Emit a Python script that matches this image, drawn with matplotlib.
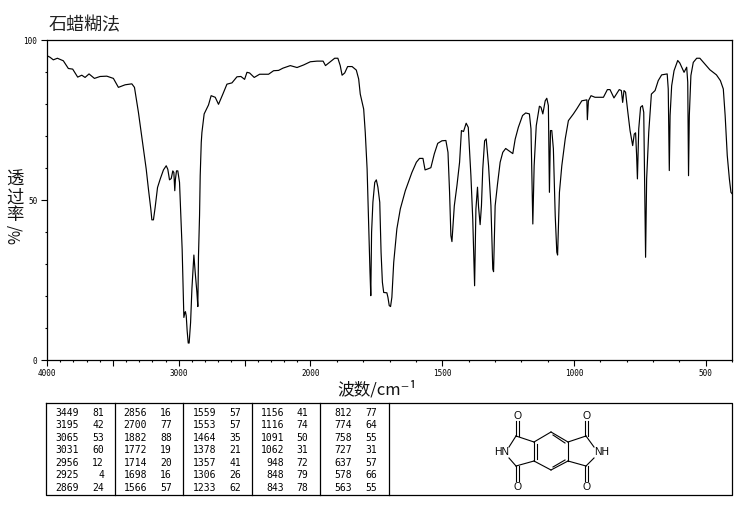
import matplotlib
matplotlib.use('Agg')
import matplotlib.pyplot as plt
import numpy as np

CJK = ['Noto Sans CJK SC', 'DejaVu Sans']
MONO = 'DejaVu Sans Mono'

wavenumber = [
    4000, 3977, 3952, 3921, 3876, 3838, 3805, 3767, 3736, 3711, 3681, 3640, 3597, 3546, 3496, 3458,
    3407, 3356, 3336, 3306, 3268, 3247, 3230, 3212, 3204, 3192, 3179, 3161, 3141, 3116, 3095, 3083,
    3070, 3057, 3045, 3037, 3030, 3025, 3017, 3007, 2994, 2984, 2974, 2966, 2961, 2953, 2949, 2943,
    2936, 2928, 2921, 2910, 2900, 2893, 2885, 2875, 2862, 2855, 2850, 2842, 2837, 2829, 2824, 2807,
    2774, 2754, 2723, 2698, 2665, 2634, 2596, 2558, 2528, 2500, 2482, 2462, 2427, 2386, 2318, 2280,
    2242, 2209, 2153, 2102, 2052, 2001, 1975, 1952, 1943, 1925, 1908, 1896, 1887, 1880, 1870, 1859,
    1842, 1826, 1817, 1811, 1798, 1792, 1785, 1779, 1774, 1771, 1768, 1763, 1756, 1750, 1744, 1737,
    1732, 1727, 1722, 1710, 1706, 1701, 1696, 1691, 1684, 1672, 1659, 1640, 1615, 1598, 1586, 1573,
    1565, 1555, 1543, 1530, 1517, 1501, 1486, 1478, 1472, 1467, 1463, 1454, 1444, 1434, 1427, 1419,
    1409, 1401, 1391, 1384, 1377, 1372, 1366, 1362, 1356, 1351, 1346, 1339, 1333, 1324, 1315, 1308,
    1305, 1299, 1290, 1280, 1270, 1259, 1242, 1232, 1223, 1211, 1195, 1183, 1169, 1163, 1159, 1156,
    1151, 1143, 1131, 1125, 1118, 1109, 1103, 1097, 1093, 1089, 1084, 1078, 1071, 1065, 1062, 1055,
    1046, 1033, 1021, 1002, 989, 970, 951, 949, 945, 935, 920, 888, 873, 863, 848, 828,
    820, 815, 810, 804, 796, 787, 777, 771, 766, 762, 759, 754, 747, 740, 735, 731,
    728, 724, 716, 706, 692, 680, 667, 646, 642, 639, 638, 635, 629, 620, 606, 598,
    582, 572, 568, 565, 562, 556, 547, 534, 522, 503, 484, 459, 444, 433, 426, 418,
    410, 404, 400,
]
transmittance = [
    95.1, 94.6, 93.8, 94.3, 93.5, 91.1, 90.9, 88.4, 89.0, 88.3, 89.4, 88.0, 88.6, 88.7, 88.0, 85.2,
    86.0, 86.3, 85.2, 77.4, 65.9, 59.7, 53.4, 47.2, 43.8, 43.8, 47.7, 53.9, 56.5, 59.4, 60.7, 59.6,
    56.3, 56.7, 59.1, 58.6, 52.9, 56.5, 59.1, 59.1, 55.5, 45.1, 34.6, 20.6, 13.3, 14.9, 15.1, 13.8,
    9.1, 5.3, 5.3, 11.7, 22.2, 27.4, 32.8, 27.4, 21.1, 16.7, 32.6, 45.1, 57.6, 68.0, 71.1, 76.9,
    79.7, 82.6, 82.1, 79.9, 83.1, 86.2, 86.6, 88.5, 88.6, 87.7, 89.9, 89.7, 88.3, 89.3, 89.3, 90.4,
    90.5, 91.2, 92.0, 91.4, 92.2, 93.2, 93.4, 93.4, 92.0, 93.2, 94.3, 94.3, 92.0, 89.0, 89.7, 91.7,
    91.7, 90.6, 87.8, 83.1, 78.4, 71.1, 59.7, 42.0, 27.4, 20.1, 39.9, 49.3, 55.5, 56.3, 54.0, 49.3,
    33.6, 24.3, 21.1, 21.0, 19.6, 17.0, 16.7, 19.6, 30.5, 41.0, 47.2, 52.9, 58.6, 61.8, 63.0, 63.0,
    59.4, 59.7, 60.1, 64.4, 67.7, 68.5, 68.6, 64.9, 52.4, 38.9, 37.0, 48.2, 54.5, 61.8, 71.7, 71.4,
    74.0, 72.7, 57.6, 44.0, 23.2, 47.2, 54.0, 47.8, 42.3, 48.2, 59.7, 68.5, 69.1, 60.7, 48.2, 28.4,
    27.6, 48.2, 55.0, 61.8, 64.9, 66.1, 65.1, 64.5, 69.0, 72.7, 76.4, 77.2, 76.9, 72.2, 55.5, 42.5,
    60.7, 73.2, 79.3, 79.0, 76.9, 81.0, 81.8, 79.5, 52.4, 71.7, 71.7, 66.0, 45.1, 33.7, 32.8, 52.4,
    60.7, 69.1, 74.8, 76.9, 78.5, 81.0, 81.3, 75.1, 81.0, 82.6, 82.1, 82.1, 84.5, 84.5, 81.9, 84.5,
    84.2, 80.5, 84.2, 83.7, 77.9, 71.7, 67.0, 70.6, 71.0, 63.9, 56.6, 72.2, 79.0, 79.5, 77.4, 51.4,
    32.1, 56.6, 71.2, 83.1, 84.2, 87.3, 89.1, 89.4, 84.7, 65.9, 59.2, 76.4, 85.7, 90.4, 93.6, 92.8,
    89.9, 91.5, 86.8, 57.6, 76.4, 88.9, 93.0, 94.3, 94.3, 92.5, 90.7, 89.1, 87.3, 84.7, 76.4, 63.9,
    56.6, 52.4, 52.0,
]

x_major = [4000, 3500, 3000, 2500, 2000, 1500, 1000, 500]
x_labels = ['4000', '', '3000', '', '2000', '1500', '1000', '500']
y_major = [0, 50, 100]
y_labels = ['0', '50', '100']

peak_wn = [
    ['3449', '3195', '3065', '3031', '2956', '2925', '2869'],
    ['2856', '2700', '1882', '1772', '1714', '1698', '1566'],
    ['1559', '1553', '1464', '1378', '1357', '1306', '1233'],
    ['1156', '1116', '1091', '1062', '948', '848', '843'],
    ['812', '774', '758', '727', '637', '578', '563'],
]
peak_t = [
    ['81', '42', '53', '60', '12', '4', '24'],
    ['16', '77', '88', '19', '20', '16', '57'],
    ['57', '57', '35', '21', '41', '26', '62'],
    ['41', '74', '50', '31', '72', '79', '78'],
    ['77', '64', '55', '31', '57', '66', '55'],
]


def to_scale(w):
    return np.interp(w, [400, 2000, 4000], [0, 3.2, 5.2])


def from_scale(u):
    return np.interp(u, [0, 3.2, 5.2], [400, 2000, 4000])


fig = plt.figure(figsize=(7.37, 5.10), dpi=100, facecolor='white')

# full figure overlay in pixel coordinates, for the table and the structure
bg = fig.add_axes([0, 0, 1, 1])
bg.set_xlim(0, 737)
bg.set_ylim(510, 0)
bg.axis('off')

ax = fig.add_axes([47 / 737, 1 - 361 / 510, 685 / 737, 320 / 510])
ax.patch.set_alpha(0)
ax.set_xscale('function', functions=(to_scale, from_scale))
ax.plot(wavenumber, transmittance, color='black', lw=0.85)
ax.set_xlim(4000, 400)
ax.set_ylim(0, 100)
ax.set_xticks(x_major, x_labels, fontfamily=MONO, fontsize=5.5)
ax.set_xticks(np.arange(400, 4001, 100), minor=True)
ax.set_yticks(y_major, y_labels, fontfamily=MONO, fontsize=5.5)
ax.set_yticks(np.arange(0, 101, 10), minor=True)
ax.tick_params(axis='both', which='major', length=4, width=0.8)
ax.tick_params(axis='both', which='minor', length=1.3, width=0.8)
ax.tick_params(axis='x', which='major', pad=2)
ax.tick_params(axis='y', which='major', pad=3)
for spine in ax.spines.values():
    spine.set_linewidth(0.9)

bg.text(49, 25, '石蜡糊法', family=CJK, fontsize=13, va='center', ha='left', color='#222222')
bg.text(377, 390, '波数/cm⁻¹', family=CJK, fontsize=12, va='center', ha='center', color='#111111')
for label, ypos in zip(['透', '过', '率'], [180, 198, 215]):
    bg.text(15, ypos, label, family=CJK, fontsize=12.5, va='center', ha='center', color='#111111')
bg.text(15, 234, '%/', family=CJK, fontsize=11, rotation=90, va='center', ha='center', color='#111111')

# peak table
bg.plot([46, 732, 732, 46, 46], [404, 404, 496, 496, 404], color='black', lw=0.9)
for xpos in [115, 183, 252, 320, 389]:
    bg.plot([xpos, xpos], [404, 496], color='black', lw=0.9)
wn_right = [79, 147, 216, 284, 352]
t_right = [104, 172, 241, 308, 377]
for col in range(5):
    for row in range(7):
        ypos = 413 + row * 12.5
        bg.text(wn_right[col], ypos, peak_wn[col][row], family=MONO, fontsize=7, ha='right', va='center')
        bg.text(t_right[col], ypos, peak_t[col][row], family=MONO, fontsize=7, ha='right', va='center')

# structure, pixel positions
bonds = [
    (551, 433, 568, 443), (568, 443, 568, 462), (568, 462, 551, 471), (551, 471, 534, 462),
    (534, 462, 534, 443), (534, 443, 551, 433),
    (553, 436, 565, 444), (565, 461, 553, 468), (537, 445, 537, 460),
    (568, 443, 586, 437), (586, 437, 594, 448), (594, 459, 586, 467), (586, 467, 568, 462),
    (534, 443, 516, 437), (516, 437, 509, 448), (509, 459, 516, 467), (516, 467, 534, 462),
    (585, 437, 585, 422), (588, 437, 588, 422), (585, 467, 585, 482), (588, 467, 588, 482),
    (516, 437, 516, 422), (519, 437, 519, 422), (516, 467, 516, 482), (519, 467, 519, 482),
]
for x0, y0, x1, y1 in bonds:
    bg.plot([x0, x1], [y0, y1], color='black', lw=0.8)
for xpos, ypos, label in [(587, 416, 'O'), (587, 487, 'O'), (518, 416, 'O'), (518, 487, 'O'),
                          (602, 452, 'NH'), (502, 452, 'HN')]:
    bg.text(xpos, ypos, label, fontsize=7.5, family='Liberation Sans', ha='center', va='center')

bg.set_xlim(0, 737)
bg.set_ylim(510, 0)

fig.savefig('out.png', dpi=100)
